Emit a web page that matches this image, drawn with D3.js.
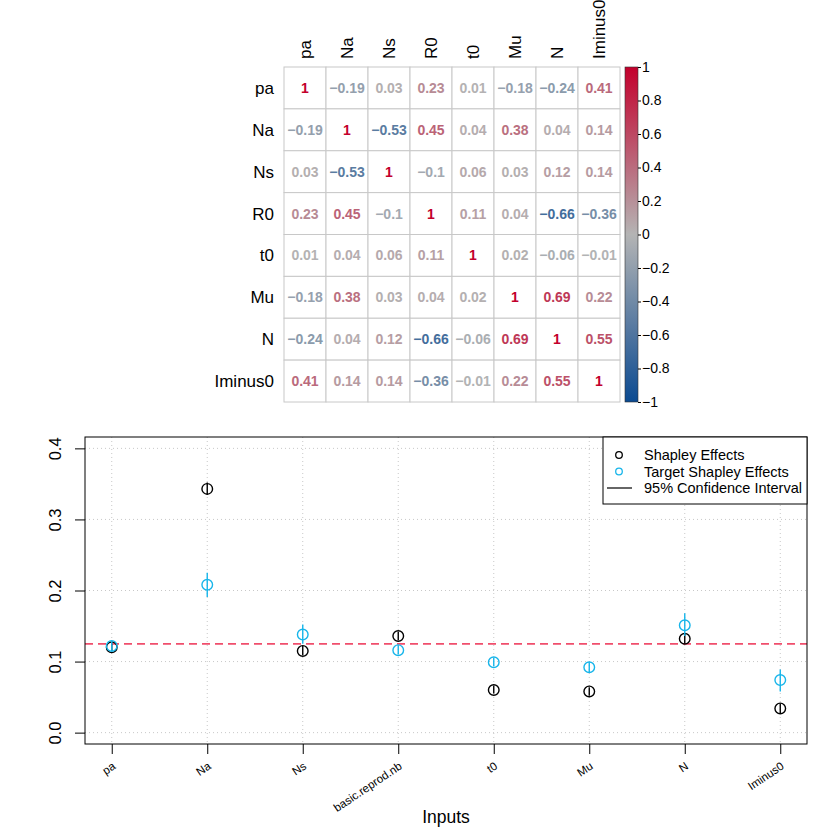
<!DOCTYPE html>
<html>
<head>
<meta charset="utf-8">
<script src="https://cdn.jsdelivr.net/npm/d3@7"></script>
<style>
  body { margin: 0; background: white; }
  text { font-family: 'Liberation Sans', Arial, sans-serif; }
</style>
</head>
<body>
<svg id="chart" width="830" height="830"></svg>
<script>
/* DATA */

// Correlation matrix
const corrVars = ['pa', 'Na', 'Ns', 'R0', 't0', 'Mu', 'N', 'Iminus0']
const corrValues = [
  [1, -0.19, 0.03, 0.23, 0.01, -0.18, -0.24, 0.41],
  [-0.19, 1, -0.53, 0.45, 0.04, 0.38, 0.04, 0.14],
  [0.03, -0.53, 1, -0.1, 0.06, 0.03, 0.12, 0.14],
  [0.23, 0.45, -0.1, 1, 0.11, 0.04, -0.66, -0.36],
  [0.01, 0.04, 0.06, 0.11, 1, 0.02, -0.06, -0.01],
  [-0.18, 0.38, 0.03, 0.04, 0.02, 1, 0.69, 0.22],
  [-0.24, 0.04, 0.12, -0.66, -0.06, 0.69, 1, 0.55],
  [0.41, 0.14, 0.14, -0.36, -0.01, 0.22, 0.55, 1]
]
const colourbarTicks = [1, 0.8, 0.6, 0.4, 0.2, 0, -0.2, -0.4, -0.6, -0.8, -1]

// Shapley effects
const inputs = ['pa', 'Na', 'Ns', 'basic.reprod.nb', 't0', 'Mu', 'N', 'Iminus0']
const shapley = [0.120, 0.343, 0.115, 0.136, 0.060, 0.058, 0.132, 0.034]
const shapleyLow = [0.115, 0.335, 0.109, 0.130, 0.055, 0.052, 0.125, 0.027]
const shapleyHigh = [0.125, 0.352, 0.122, 0.142, 0.066, 0.064, 0.139, 0.041]
const target = [0.122, 0.208, 0.138, 0.116, 0.099, 0.092, 0.151, 0.074]
const targetLow = [0.115, 0.191, 0.125, 0.110, 0.093, 0.085, 0.136, 0.058]
const targetHigh = [0.129, 0.225, 0.152, 0.123, 0.105, 0.099, 0.168, 0.089]
const yTicks = [0, 0.1, 0.2, 0.3, 0.4]
const referenceLevel = 0.125
const legendItems = ['Shapley Effects', 'Target Shapley Effects', '95% Confidence Interval']

/* COLOURS */

const corrBlue = '#0b4a91'
const corrGrey = '#b4b4b4'
const corrRed = '#c3002c'
const shapleyColour = 'black'
const targetColour = '#17b5ea'
const refColour = '#f04e6c'
const gridColour = '#c8c8c8'

const corrColour = d3.scaleLinear()
  .domain([-1, 0, 1])
  .range([corrBlue, corrGrey, corrRed])
  .interpolate(d3.interpolateRgb)

const fmtCorr = v => (v < 0 ? '\u2212' : '') + String(Math.abs(v))

const svg = d3.select('#chart')

/* CORRELATION MATRIX */

function drawCorrelation () {
  const g = svg.append('g')
  const x = d3.scaleBand().domain(corrVars).range([284, 620])
  const y = d3.scaleBand().domain(corrVars).range([67, 402])

  // cells
  corrVars.forEach((row, i) => {
    corrVars.forEach((col, j) => {
      g.append('rect')
        .attr('x', x(col))
        .attr('y', y(row))
        .attr('width', x.bandwidth())
        .attr('height', y.bandwidth())
        .attr('fill', 'white')
        .attr('stroke', gridColour)
        .attr('stroke-width', 1)

      const v = corrValues[i][j]
      g.append('text')
        .attr('x', x(col) + x.bandwidth() / 2)
        .attr('y', y(row) + y.bandwidth() / 2)
        .attr('dy', '0.36em')
        .attr('text-anchor', 'middle')
        .attr('font-size', 14)
        .attr('font-weight', 'bold')
        .attr('fill', corrColour(v))
        .text(fmtCorr(v))
    })
  })

  // column labels
  corrVars.forEach(col => {
    g.append('text')
      .attr('transform', `translate(${x(col) + x.bandwidth() / 2 + 6},59) rotate(-90)`)
      .attr('text-anchor', 'start')
      .attr('font-size', 17)
      .text(col)
  })

  // row labels
  corrVars.forEach(row => {
    g.append('text')
      .attr('x', 274)
      .attr('y', y(row) + y.bandwidth() / 2)
      .attr('dy', '0.35em')
      .attr('text-anchor', 'end')
      .attr('font-size', 17)
      .text(row)
  })

  // colour bar
  const cb = d3.scaleLinear().domain([1, -1]).range([67, 402])
  const grad = svg.append('defs').append('linearGradient')
    .attr('id', 'corrGrad')
    .attr('x1', '0').attr('x2', '0')
    .attr('y1', '0').attr('y2', '1')
  d3.range(0, 1.0001, 0.05).forEach(t => {
    grad.append('stop')
      .attr('offset', t)
      .attr('stop-color', corrColour(1 - 2 * t))
  })

  g.append('rect')
    .attr('x', 625)
    .attr('y', cb(1))
    .attr('width', 13)
    .attr('height', cb(-1) - cb(1))
    .attr('fill', 'url(#corrGrad)')
    .attr('stroke', '#333')
    .attr('stroke-width', 0.6)

  const cbAxis = d3.axisRight(cb)
    .tickValues(colourbarTicks)
    .tickSize(3)
    .tickPadding(1)
    .tickFormat(fmtCorr)
  const ga = g.append('g')
    .attr('transform', 'translate(638,0)')
    .call(cbAxis)
  ga.select('.domain').remove()
  ga.selectAll('text')
    .attr('font-size', 14)
    .attr('font-family', "'Liberation Sans', Arial, sans-serif")
    .attr('fill', 'black')
}

/* SHAPLEY EFFECTS PLOT */

function drawShapley () {
  const g = svg.append('g')
  const left = 85, right = 807, top = 437, bottom = 744
  const x = d3.scaleLinear().domain([0.72, 8.28]).range([left, right])
  const y = d3.scaleLinear().domain([-0.016, 0.416]).range([bottom, top])
  const idx = d3.range(inputs.length)

  // grid
  idx.forEach(i => {
    g.append('line')
      .attr('x1', x(i + 1)).attr('x2', x(i + 1))
      .attr('y1', top).attr('y2', bottom)
      .attr('stroke', gridColour)
      .attr('stroke-dasharray', '1,3')
  })
  yTicks.forEach(t => {
    g.append('line')
      .attr('x1', left).attr('x2', right)
      .attr('y1', y(t)).attr('y2', y(t))
      .attr('stroke', gridColour)
      .attr('stroke-dasharray', '1,3')
  })

  // reference line
  g.append('line')
    .attr('x1', left).attr('x2', right)
    .attr('y1', y(referenceLevel)).attr('y2', y(referenceLevel))
    .attr('stroke', refColour)
    .attr('stroke-width', 1.8)
    .attr('stroke-dasharray', '8,5')

  // points and confidence intervals
  const series = [
    { est: shapley, lo: shapleyLow, hi: shapleyHigh, colour: shapleyColour },
    { est: target, lo: targetLow, hi: targetHigh, colour: targetColour }
  ]
  series.forEach(s => {
    idx.forEach(i => {
      g.append('line')
        .attr('x1', x(i + 1)).attr('x2', x(i + 1))
        .attr('y1', y(s.lo[i])).attr('y2', y(s.hi[i]))
        .attr('stroke', s.colour)
        .attr('stroke-width', 1.4)
      g.append('circle')
        .attr('cx', x(i + 1))
        .attr('cy', y(s.est[i]))
        .attr('r', 5.3)
        .attr('fill', 'none')
        .attr('stroke', s.colour)
        .attr('stroke-width', 1.4)
    })
  })

  // box
  g.append('rect')
    .attr('x', left).attr('y', top)
    .attr('width', right - left).attr('height', bottom - top)
    .attr('fill', 'none')
    .attr('stroke', 'black')
    .attr('stroke-width', 1)

  // y axis
  const ya = g.append('g')
    .attr('transform', `translate(${left},0)`)
    .call(d3.axisLeft(y).tickValues(yTicks).tickSize(10).tickFormat(d3.format('.1f')))
  ya.select('.domain').remove()
  ya.selectAll('line').attr('stroke', 'black')
  ya.selectAll('text')
    .attr('x', null)
    .attr('dy', null)
    .attr('transform', 'translate(-24,0) rotate(-90)')
    .attr('text-anchor', 'middle')
    .attr('font-size', 16.5)
    .attr('font-family', "'Liberation Sans', Arial, sans-serif")
    .attr('fill', 'black')

  // x axis
  const xa = g.append('g')
    .attr('transform', `translate(0,${bottom})`)
    .call(d3.axisBottom(x).tickValues(idx.map(i => i + 1)).tickSize(10).tickFormat(d => inputs[d - 1]))
  xa.select('.domain').remove()
  xa.selectAll('line').attr('stroke', 'black')
  xa.selectAll('text')
    .attr('y', null)
    .attr('dy', null)
    .attr('transform', 'translate(4,24) rotate(-34)')
    .attr('text-anchor', 'end')
    .attr('font-size', 11.5)
    .attr('font-family', "'Liberation Sans', Arial, sans-serif")
    .attr('fill', 'black')

  g.append('text')
    .attr('x', (left + right) / 2)
    .attr('y', 823)
    .attr('text-anchor', 'middle')
    .attr('font-size', 17.5)
    .text('Inputs')

  // legend
  const lg = g.append('g')
  lg.append('rect')
    .attr('x', 603).attr('y', top)
    .attr('width', right - 603).attr('height', 67)
    .attr('fill', 'white')
    .attr('stroke', 'black')
    .attr('stroke-width', 1)
  const legendColours = [shapleyColour, targetColour, shapleyColour]
  legendItems.forEach((label, i) => {
    const ly = 455 + i * 16.5
    if (i < 2) {
      lg.append('circle')
        .attr('cx', 619).attr('cy', ly)
        .attr('r', 3.3)
        .attr('fill', 'none')
        .attr('stroke', legendColours[i])
        .attr('stroke-width', 1.3)
    } else {
      lg.append('line')
        .attr('x1', 607).attr('x2', 632)
        .attr('y1', ly).attr('y2', ly)
        .attr('stroke', legendColours[i])
        .attr('stroke-width', 1.2)
    }
    lg.append('text')
      .attr('x', 644)
      .attr('y', ly)
      .attr('dy', '0.35em')
      .attr('font-size', 14.5)
      .text(label)
  })
}

drawCorrelation()
drawShapley()
</script>
</body>
</html>
